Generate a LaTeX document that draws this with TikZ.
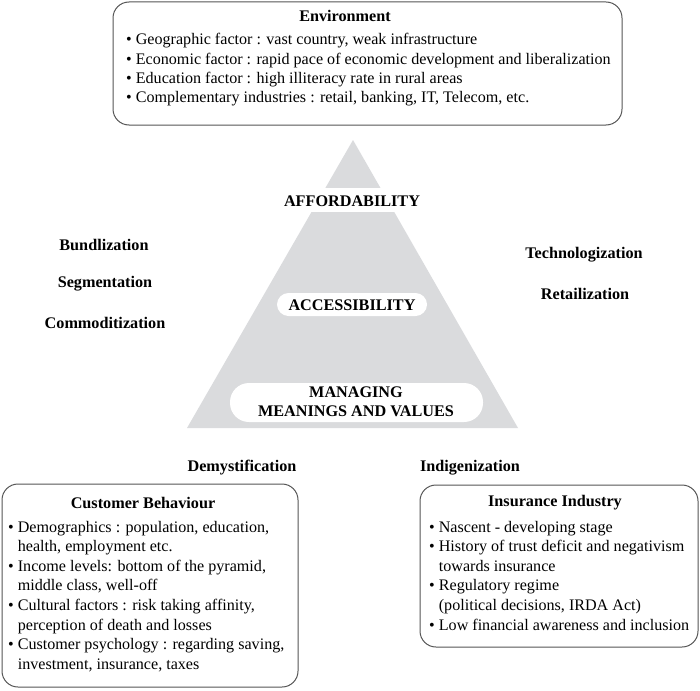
\documentclass[tikz,border=0pt]{standalone}
\usepackage{fontspec}
\setmainfont{Liberation Serif}
\definecolor{pyr}{RGB}{218,219,221}
\definecolor{boxline}{RGB}{85,85,85}
\newcommand{\bul}{\textbullet\ }
\newcommand{\ind}{\phantom{\textbullet\ }}
\begin{document}
\begin{tikzpicture}[x=1pt,y=-1pt,
  txt/.style={inner sep=0pt, font=\fontsize{16.1}{19}\selectfont},
  bld/.style={inner sep=0pt, font=\fontsize{16.2}{19}\selectfont\bfseries},
  line/.style={txt, anchor=base west},
  frame/.style={draw=boxline, line width=1pt, rounded corners=16pt},
  pill/.style={fill=white, inner sep=0pt}]
\useasboundingbox (0,0) rectangle (700,690);

% pyramid
\fill[pyr] (353,140) -- (518,428) -- (187,428) -- cycle;
\fill[white] (150,188) rectangle (550,212);
\fill[white, rounded corners=11.5pt] (277,293) rectangle (427,316);
\fill[white, rounded corners=19pt] (230,383) rectangle (483,422);
\node[bld] (aff) at (352,201) {AFFORDABILITY};
\node[bld] (acc) at (352,305) {ACCESSIBILITY};
\node[bld, align=center, font=\fontsize{16.2}{19.5}\selectfont\bfseries] (mmv) at (356,402) {MANAGING\\MEANINGS AND VALUES};

% side labels
\node[bld] (bun) at (104,245) {Bundlization};
\node[bld] (seg) at (105,284) {Segmentation};
\node[bld] (com) at (105,323) {Commoditization};
\node[bld] (tec) at (584,255) {Technologization};
\node[bld] (ret) at (585,294) {Retailization};
\node[bld] (dem) at (242,468) {Demystification};
\node[bld] (ind) at (470,468) {Indigenization};

% environment box
\draw[frame] (113,2) rectangle (622,125);
\node[bld] (envt) at (345,16) {Environment};
\node[line] (e1) at (126,45) {\bul Geographic factor : vast country, weak infrastructure};
\node[line] (e2) at (126,64.3) {\bul Economic factor : rapid pace of economic development and liberalization};
\node[line] (e3) at (126,83.6) {\bul Education factor : high illiteracy rate in rural areas};
\node[line] (e4) at (126,102.9) {\bul Complementary industries : retail, banking, IT, Telecom, etc.};

% customer behaviour box
\draw[frame] (2,484) rectangle (298,687);
\node[bld] (cbt) at (143,503) {Customer Behaviour};
\node[line] (c1) at (8,532) {\bul Demographics : population, education,};
\node[line] (c2) at (8,551.6) {\ind health, employment etc.};
\node[line] (c3) at (8,571.2) {\bul Income levels: bottom of the pyramid,};
\node[line] (c4) at (8,590.8) {\ind middle class, well-off};
\node[line] (c5) at (8,610.4) {\bul Cultural factors : risk taking affinity,};
\node[line] (c6) at (8,630) {\ind perception of death and losses};
\node[line] (c7) at (8,649.6) {\bul Customer psychology : regarding saving,};
\node[line] (c8) at (8,669.2) {\ind investment, insurance, taxes};

% insurance industry box
\draw[frame] (420,485) rectangle (698,647);
\node[bld] (iit) at (555,503) {Insurance Industry};
\node[line] (i1) at (429,532) {\bul Nascent - developing stage};
\node[line] (i2) at (429,551.6) {\bul History of trust deficit and negativism};
\node[line] (i3) at (429,571.2) {\ind towards insurance};
\node[line] (i4) at (429,590.8) {\bul Regulatory regime};
\node[line] (i5) at (429,610.4) {\ind (political decisions, IRDA Act)};
\node[line] (i6) at (429,630) {\bul Low financial awareness and inclusion};
\end{tikzpicture}
\end{document}
